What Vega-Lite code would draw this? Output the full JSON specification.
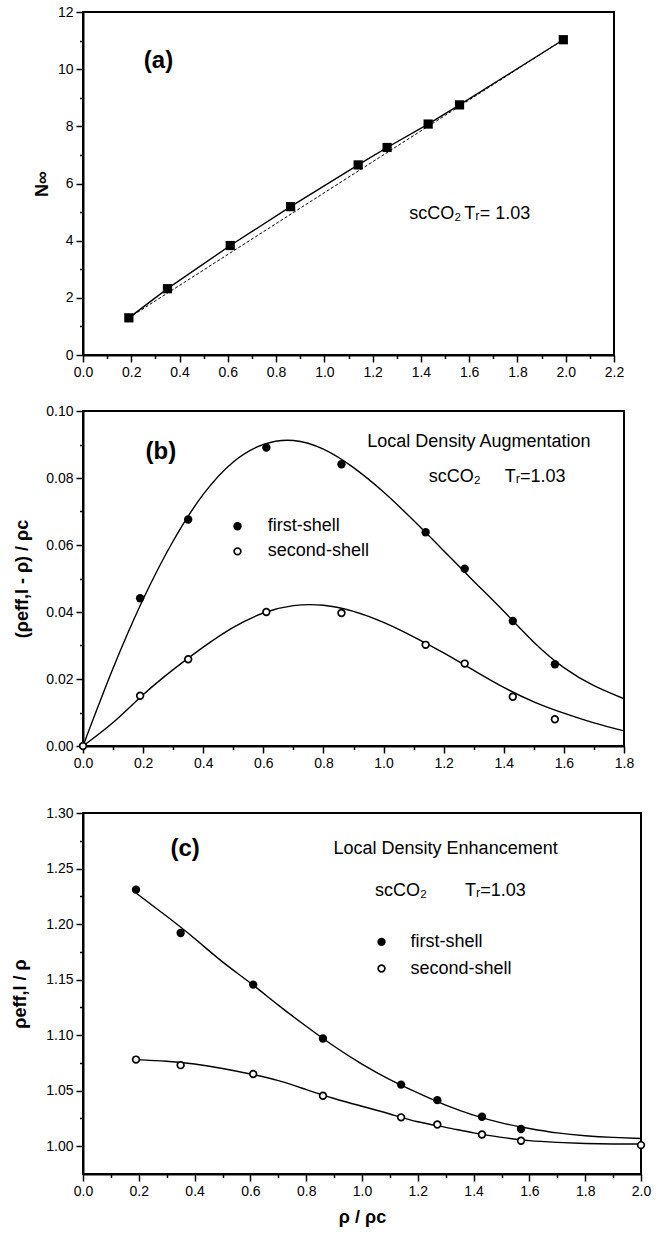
{
  "$schema": "https://vega.github.io/schema/vega-lite/v6.json",
  "padding": {"left": 10, "top": 4, "right": 5, "bottom": 5},
  "background": "white",
  "spacing": 23,
  "datasets": {
    "a_pts": [
      {"x": 0.19, "y": 1.3}, {"x": 0.35, "y": 2.32}, {"x": 0.61, "y": 3.83},
      {"x": 0.86, "y": 5.19}, {"x": 1.14, "y": 6.65}, {"x": 1.26, "y": 7.26},
      {"x": 1.43, "y": 8.08}, {"x": 1.56, "y": 8.75}, {"x": 1.99, "y": 11.03}
    ],
    "a_fit": [{"x": 0.19, "y": 1.3}, {"x": 1.99, "y": 11.03}],
    "a_big": [{"x": 0.313, "y": 10.3, "label": "(a)"}],
    "a_note": [
      {"x": 1.352, "y": 4.95, "label": "scCO₂"},
      {"x": 1.58, "y": 4.95, "label": "Tᵣ= 1.03"}
    ],
    "b_pts": [
      {"x": 0.19, "y": 0.0441, "shell": "first"}, {"x": 0.35, "y": 0.0676, "shell": "first"},
      {"x": 0.61, "y": 0.0891, "shell": "first"}, {"x": 0.86, "y": 0.0841, "shell": "first"},
      {"x": 1.14, "y": 0.0638, "shell": "first"}, {"x": 1.27, "y": 0.0529, "shell": "first"},
      {"x": 1.43, "y": 0.0373, "shell": "first"}, {"x": 1.57, "y": 0.0244, "shell": "first"},
      {"x": 0.0, "y": 0.0, "shell": "second"},
      {"x": 0.19, "y": 0.015, "shell": "second"}, {"x": 0.35, "y": 0.0259, "shell": "second"},
      {"x": 0.61, "y": 0.04, "shell": "second"}, {"x": 0.86, "y": 0.0397, "shell": "second"},
      {"x": 1.14, "y": 0.0302, "shell": "second"}, {"x": 1.27, "y": 0.0246, "shell": "second"},
      {"x": 1.43, "y": 0.0147, "shell": "second"}, {"x": 1.57, "y": 0.008, "shell": "second"}
    ],
    "b_curve": [
      {"x": 0.0, "y": 0.0, "shell": "first"}, {"x": 0.1, "y": 0.0232, "shell": "first"},
      {"x": 0.2, "y": 0.0438, "shell": "first"}, {"x": 0.3, "y": 0.0612, "shell": "first"},
      {"x": 0.4, "y": 0.0751, "shell": "first"}, {"x": 0.5, "y": 0.0848, "shell": "first"},
      {"x": 0.6, "y": 0.0900, "shell": "first"}, {"x": 0.7, "y": 0.0912, "shell": "first"},
      {"x": 0.8, "y": 0.0886, "shell": "first"}, {"x": 0.9, "y": 0.0831, "shell": "first"},
      {"x": 1.0, "y": 0.0758, "shell": "first"}, {"x": 1.1, "y": 0.0673, "shell": "first"},
      {"x": 1.2, "y": 0.0583, "shell": "first"}, {"x": 1.3, "y": 0.0492, "shell": "first"},
      {"x": 1.4, "y": 0.0402, "shell": "first"}, {"x": 1.5, "y": 0.031, "shell": "first"},
      {"x": 1.6, "y": 0.0234, "shell": "first"}, {"x": 1.7, "y": 0.018, "shell": "first"},
      {"x": 1.8, "y": 0.0141, "shell": "first"},
      {"x": 0.0, "y": 0.0, "shell": "second"}, {"x": 0.1, "y": 0.007, "shell": "second"},
      {"x": 0.2, "y": 0.0153, "shell": "second"}, {"x": 0.3, "y": 0.0228, "shell": "second"},
      {"x": 0.4, "y": 0.0295, "shell": "second"}, {"x": 0.5, "y": 0.0354, "shell": "second"},
      {"x": 0.6, "y": 0.0397, "shell": "second"}, {"x": 0.7, "y": 0.0419, "shell": "second"},
      {"x": 0.8, "y": 0.0420, "shell": "second"}, {"x": 0.9, "y": 0.0402, "shell": "second"},
      {"x": 1.0, "y": 0.0369, "shell": "second"}, {"x": 1.1, "y": 0.0326, "shell": "second"},
      {"x": 1.2, "y": 0.0278, "shell": "second"}, {"x": 1.3, "y": 0.0226, "shell": "second"},
      {"x": 1.4, "y": 0.0175, "shell": "second"}, {"x": 1.5, "y": 0.0132, "shell": "second"},
      {"x": 1.6, "y": 0.0098, "shell": "second"}, {"x": 1.7, "y": 0.0069, "shell": "second"},
      {"x": 1.8, "y": 0.0045, "shell": "second"}
    ],
    "b_leg": [
      {"x": 0.514, "y": 0.0656, "shell": "first"},
      {"x": 0.514, "y": 0.0581, "shell": "second"}
    ],
    "b_big": [{"x": 0.259, "y": 0.0877, "label": "(b)"}],
    "b_note": [
      {"x": 0.946, "y": 0.0906, "label": "Local Density Augmentation"},
      {"x": 1.15, "y": 0.0804, "label": "scCO₂"},
      {"x": 1.403, "y": 0.0804, "label": "Tᵣ=1.03"},
      {"x": 0.615, "y": 0.0656, "label": "first-shell"},
      {"x": 0.615, "y": 0.0581, "label": "second-shell"}
    ],
    "c_pts": [
      {"x": 0.19, "y": 1.231, "shell": "first"}, {"x": 0.35, "y": 1.192, "shell": "first"},
      {"x": 0.61, "y": 1.1455, "shell": "first"}, {"x": 0.86, "y": 1.097, "shell": "first"},
      {"x": 1.14, "y": 1.0555, "shell": "first"}, {"x": 1.27, "y": 1.0415, "shell": "first"},
      {"x": 1.43, "y": 1.0265, "shell": "first"}, {"x": 1.57, "y": 1.0155, "shell": "first"},
      {"x": 0.19, "y": 1.078, "shell": "second"}, {"x": 0.35, "y": 1.073, "shell": "second"},
      {"x": 0.61, "y": 1.065, "shell": "second"}, {"x": 0.86, "y": 1.0455, "shell": "second"},
      {"x": 1.14, "y": 1.026, "shell": "second"}, {"x": 1.27, "y": 1.0195, "shell": "second"},
      {"x": 1.43, "y": 1.0105, "shell": "second"}, {"x": 1.57, "y": 1.005, "shell": "second"},
      {"x": 2.0, "y": 1.001, "shell": "second"}
    ],
    "c_curve": [
      {"x": 0.19, "y": 1.228, "shell": "first"}, {"x": 0.3, "y": 1.207, "shell": "first"},
      {"x": 0.4, "y": 1.187, "shell": "first"}, {"x": 0.5, "y": 1.166, "shell": "first"},
      {"x": 0.6, "y": 1.147, "shell": "first"}, {"x": 0.7, "y": 1.127, "shell": "first"},
      {"x": 0.8, "y": 1.108, "shell": "first"}, {"x": 0.9, "y": 1.09, "shell": "first"},
      {"x": 1.0, "y": 1.074, "shell": "first"}, {"x": 1.1, "y": 1.06, "shell": "first"},
      {"x": 1.2, "y": 1.048, "shell": "first"}, {"x": 1.3, "y": 1.037, "shell": "first"},
      {"x": 1.4, "y": 1.028, "shell": "first"}, {"x": 1.5, "y": 1.021, "shell": "first"},
      {"x": 1.6, "y": 1.016, "shell": "first"}, {"x": 1.7, "y": 1.012, "shell": "first"},
      {"x": 1.8, "y": 1.0095, "shell": "first"}, {"x": 1.9, "y": 1.008, "shell": "first"},
      {"x": 2.0, "y": 1.007, "shell": "first"},
      {"x": 0.19, "y": 1.078, "shell": "second"}, {"x": 0.3, "y": 1.0765, "shell": "second"},
      {"x": 0.4, "y": 1.074, "shell": "second"}, {"x": 0.5, "y": 1.07, "shell": "second"},
      {"x": 0.6, "y": 1.065, "shell": "second"}, {"x": 0.7, "y": 1.059, "shell": "second"},
      {"x": 0.8, "y": 1.051, "shell": "second"}, {"x": 0.9, "y": 1.043, "shell": "second"},
      {"x": 1.0, "y": 1.036, "shell": "second"}, {"x": 1.1, "y": 1.029, "shell": "second"},
      {"x": 1.2, "y": 1.022, "shell": "second"}, {"x": 1.3, "y": 1.017, "shell": "second"},
      {"x": 1.4, "y": 1.012, "shell": "second"}, {"x": 1.5, "y": 1.008, "shell": "second"},
      {"x": 1.6, "y": 1.005, "shell": "second"}, {"x": 1.7, "y": 1.0035, "shell": "second"},
      {"x": 1.8, "y": 1.0025, "shell": "second"}, {"x": 1.9, "y": 1.002, "shell": "second"},
      {"x": 2.0, "y": 1.002, "shell": "second"}
    ],
    "c_leg": [
      {"x": 1.07, "y": 1.184, "shell": "first"},
      {"x": 1.07, "y": 1.16, "shell": "second"}
    ],
    "c_big": [{"x": 0.366, "y": 1.268, "label": "(c)"}],
    "c_note": [
      {"x": 0.898, "y": 1.268, "label": "Local Density Enhancement"},
      {"x": 1.047, "y": 1.23, "label": "scCO₂"},
      {"x": 1.369, "y": 1.23, "label": "Tᵣ=1.03"},
      {"x": 1.174, "y": 1.184, "label": "first-shell"},
      {"x": 1.174, "y": 1.16, "label": "second-shell"}
    ]
  },
  "vconcat": [
    {
      "width": 531,
      "height": 343,
      "encoding": {
        "x": {"field": "x", "type": "quantitative",
          "scale": {"domain": [0, 2.2], "nice": false, "zero": false},
          "axis": {"title": null,
            "values": [0,0.1,0.2,0.3,0.4,0.5,0.6,0.7,0.8,0.9,1,1.1,1.2,1.3,1.4,1.5,1.6,1.7,1.8,1.9,2,2.1,2.2],
            "labelExpr": "abs(datum.value*5-round(datum.value*5))<1e-6 ? format(datum.value,'.1f') : ''",
            "tickSize": {"condition": {"test": "abs(datum.value*5-round(datum.value*5))<1e-6", "value": 7}, "value": 3.5}}},
        "y": {"field": "y", "type": "quantitative",
          "scale": {"domain": [0, 12], "nice": false, "zero": false},
          "axis": {"title": "N∞", "titlePadding": 6,
            "values": [0,1,2,3,4,5,6,7,8,9,10,11,12],
            "labelExpr": "datum.value%2===0 ? format(datum.value,'d') : ''",
            "tickSize": {"condition": {"test": "datum.value%2===0", "value": 7}, "value": 3.5}}}
      },
      "layer": [
        {"data": {"name": "a_fit"}, "mark": {"type": "line", "color": "black", "strokeWidth": 1, "strokeDash": [3, 2]}},
        {"data": {"name": "a_pts"}, "mark": {"type": "line", "color": "black", "strokeWidth": 1.4}},
        {"data": {"name": "a_pts"}, "mark": {"type": "square", "color": "black", "size": 85, "opacity": 1}},
        {"data": {"name": "a_big"}, "mark": {"type": "text", "fontSize": 24, "fontWeight": "bold", "align": "center", "baseline": "middle", "color": "black"}, "encoding": {"text": {"field": "label"}}},
        {"data": {"name": "a_note"}, "mark": {"type": "text", "fontSize": 18, "align": "left", "baseline": "middle", "color": "black"}, "encoding": {"text": {"field": "label"}}}
      ]
    },
    {
      "width": 541,
      "height": 335,
      "encoding": {
        "x": {"field": "x", "type": "quantitative",
          "scale": {"domain": [0, 1.8], "nice": false, "zero": false},
          "axis": {"title": ".", "titleColor": "white", "titleFontSize": 12, "titlePadding": 0,
            "values": [0,0.1,0.2,0.3,0.4,0.5,0.6,0.7,0.8,0.9,1,1.1,1.2,1.3,1.4,1.5,1.6,1.7,1.8],
            "labelExpr": "abs(datum.value*5-round(datum.value*5))<1e-6 ? format(datum.value,'.1f') : ''",
            "tickSize": {"condition": {"test": "abs(datum.value*5-round(datum.value*5))<1e-6", "value": 7}, "value": 3.5}}},
        "y": {"field": "y", "type": "quantitative",
          "scale": {"domain": [0, 0.1], "nice": false, "zero": false},
          "axis": {"title": "(ρeff,l - ρ) / ρc", "titlePadding": 14,
            "values": [0,0.01,0.02,0.03,0.04,0.05,0.06,0.07,0.08,0.09,0.1],
            "labelExpr": "abs(datum.value*50-round(datum.value*50))<1e-6 ? format(datum.value,'.2f') : ''",
            "tickSize": {"condition": {"test": "abs(datum.value*50-round(datum.value*50))<1e-6", "value": 7}, "value": 3.5}}}
      },
      "layer": [
        {"data": {"name": "b_curve"}, "mark": {"type": "line", "color": "black", "strokeWidth": 1.4, "interpolate": "natural"}, "encoding": {"detail": {"field": "shell"}}},
        {"data": {"name": "b_pts"}, "transform": [{"filter": "datum.shell === 'first'"}], "mark": {"type": "circle", "color": "black", "size": 70, "opacity": 1}},
        {"data": {"name": "b_pts"}, "transform": [{"filter": "datum.shell === 'second'"}], "mark": {"type": "point", "shape": "circle", "filled": true, "fill": "white", "stroke": "black", "strokeWidth": 1.7, "size": 45, "opacity": 1}},
        {"data": {"name": "b_leg"}, "transform": [{"filter": "datum.shell === 'first'"}], "mark": {"type": "circle", "color": "black", "size": 70, "opacity": 1}},
        {"data": {"name": "b_leg"}, "transform": [{"filter": "datum.shell === 'second'"}], "mark": {"type": "point", "shape": "circle", "filled": true, "fill": "white", "stroke": "black", "strokeWidth": 1.7, "size": 45, "opacity": 1}},
        {"data": {"name": "b_big"}, "mark": {"type": "text", "fontSize": 24, "fontWeight": "bold", "align": "center", "baseline": "middle", "color": "black"}, "encoding": {"text": {"field": "label"}}},
        {"data": {"name": "b_note"}, "mark": {"type": "text", "fontSize": 18, "align": "left", "baseline": "middle", "color": "black"}, "encoding": {"text": {"field": "label"}}}
      ]
    },
    {
      "width": 558,
      "height": 361,
      "encoding": {
        "x": {"field": "x", "type": "quantitative",
          "scale": {"domain": [0, 2.0], "nice": false, "zero": false},
          "axis": {"title": "ρ / ρc", "titlePadding": 10,
            "values": [0,0.1,0.2,0.3,0.4,0.5,0.6,0.7,0.8,0.9,1,1.1,1.2,1.3,1.4,1.5,1.6,1.7,1.8,1.9,2],
            "labelExpr": "abs(datum.value*5-round(datum.value*5))<1e-6 ? format(datum.value,'.1f') : ''",
            "tickSize": {"condition": {"test": "abs(datum.value*5-round(datum.value*5))<1e-6", "value": 7}, "value": 3.5}}},
        "y": {"field": "y", "type": "quantitative",
          "scale": {"domain": [0.975, 1.3], "nice": false, "zero": false},
          "axis": {"title": "ρeff,l / ρ", "titlePadding": 16,
            "values": [1,1.025,1.05,1.075,1.1,1.125,1.15,1.175,1.2,1.225,1.25,1.275,1.3],
            "labelExpr": "abs(datum.value*20-round(datum.value*20))<1e-6 ? format(datum.value,'.2f') : ''",
            "tickSize": {"condition": {"test": "abs(datum.value*20-round(datum.value*20))<1e-6", "value": 7}, "value": 3.5}}}
      },
      "layer": [
        {"data": {"name": "c_curve"}, "mark": {"type": "line", "color": "black", "strokeWidth": 1.4, "interpolate": "natural"}, "encoding": {"detail": {"field": "shell"}}},
        {"data": {"name": "c_pts"}, "transform": [{"filter": "datum.shell === 'first'"}], "mark": {"type": "circle", "color": "black", "size": 70, "opacity": 1}},
        {"data": {"name": "c_pts"}, "transform": [{"filter": "datum.shell === 'second'"}], "mark": {"type": "point", "shape": "circle", "filled": true, "fill": "white", "stroke": "black", "strokeWidth": 1.7, "size": 45, "opacity": 1}},
        {"data": {"name": "c_leg"}, "transform": [{"filter": "datum.shell === 'first'"}], "mark": {"type": "circle", "color": "black", "size": 70, "opacity": 1}},
        {"data": {"name": "c_leg"}, "transform": [{"filter": "datum.shell === 'second'"}], "mark": {"type": "point", "shape": "circle", "filled": true, "fill": "white", "stroke": "black", "strokeWidth": 1.7, "size": 45, "opacity": 1}},
        {"data": {"name": "c_big"}, "mark": {"type": "text", "fontSize": 24, "fontWeight": "bold", "align": "center", "baseline": "middle", "color": "black"}, "encoding": {"text": {"field": "label"}}},
        {"data": {"name": "c_note"}, "mark": {"type": "text", "fontSize": 18, "align": "left", "baseline": "middle", "color": "black"}, "encoding": {"text": {"field": "label"}}}
      ]
    }
  ],
  "config": {
    "font": "Liberation Sans",
    "view": {"stroke": "black", "strokeWidth": 2},
    "axis": {
      "domainColor": "black", "domainWidth": 2,
      "tickColor": "black", "tickWidth": 1.5,
      "labelColor": "black", "labelFont": "Liberation Sans", "labelFontSize": 14,
      "labelOverlap": false, "labelFlush": false, "labelPadding": 3,
      "titleFont": "Liberation Sans", "titleFontSize": 18, "titleFontWeight": "bold", "titleColor": "black",
      "grid": false
    }
  }
}
